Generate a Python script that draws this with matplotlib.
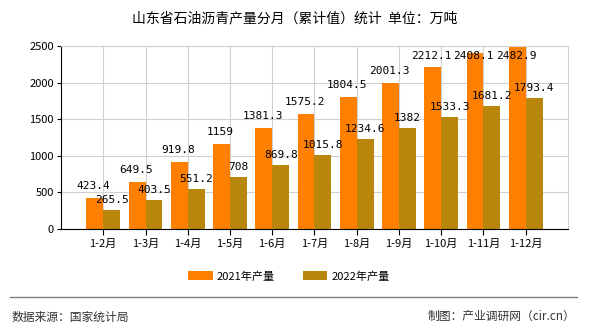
import numpy as np
import matplotlib
matplotlib.use("Agg")
import matplotlib.pyplot as plt

plt.rcParams['font.family'] = ['Noto Sans CJK SC', 'DejaVu Sans']

months = ["1-2月", "1-3月", "1-4月", "1-5月", "1-6月", "1-7月",
          "1-8月", "1-9月", "1-10月", "1-11月", "1-12月"]
prod_2021 = [423.4, 649.5, 919.8, 1159, 1381.3, 1575.2,
             1804.5, 2001.3, 2212.1, 2408.1, 2482.9]
prod_2022 = [265.5, 403.5, 551.2, 708, 869.8, 1015.8,
             1234.6, 1382, 1533.3, 1681.2, 1793.4]
labels_2021 = ["423.4", "649.5", "919.8", "1159", "1381.3", "1575.2",
               "1804.5", "2001.3", "2212.1", "2408.1", "2482.9"]
labels_2022 = ["265.5", "403.5", "551.2", "708", "869.8", "1015.8",
               "1234.6", "1382", "1533.3", "1681.2", "1793.4"]

c21 = "#FF8000"
c22 = "#B8860B"

fig = plt.figure(figsize=(5.9, 3.3), dpi=100)
ax = fig.add_axes([0.1034, 0.306, 0.8593, 0.554])

x = np.arange(1, len(months) + 1)
w = 0.4
b1 = ax.bar(x - w / 2, prod_2021, w, color=c21, label="2021年产量", zorder=2)
b2 = ax.bar(x + w / 2, prod_2022, w, color=c22, label="2022年产量", zorder=2)

# labels sit above the bars but are kept inside the plot area
px = 2500 / 183.0  # data units per pixel
top_lim = 2500 - 10 * px
for xi, v, s in zip(x, prod_2021, labels_2021):
    ax.text(xi - w / 2 - 0.03, min(v + 12 * px, top_lim), s, ha="center", va="center",
            fontsize=8, family="DejaVu Sans Mono", zorder=3)
for xi, v, s in zip(x, prod_2022, labels_2022):
    ax.text(xi + w / 2, min(v + 10 * px, top_lim), s, ha="center", va="center",
            fontsize=8, family="DejaVu Sans Mono", zorder=3)

ax.set_xlim(0, len(months) + 1)
ax.set_ylim(0, 2500)
ax.set_yticks(range(0, 2501, 500))
ax.set_xticks(x)
ax.set_xticklabels(months, fontsize=8)
ax.tick_params(axis="y", labelsize=8, length=3, pad=2)
ax.tick_params(axis="x", length=4, pad=3)
ax.grid(True, color="#d0d0d0", lw=0.8, zorder=0)
ax.set_axisbelow(True)
for sp in ("top", "right"):
    ax.spines[sp].set_color("#d0d0d0")
for sp in ("left", "bottom"):
    ax.spines[sp].set_color("black")

fig.text(0.5, 0.945, "山东省石油沥青产量分月（累计值）统计  单位：万吨",
         ha="center", va="center", fontsize=10)
fig.legend(handles=[b1, b2], loc="center", bbox_to_anchor=(0.49, 0.163),
           ncol=2, frameon=False, fontsize=8, handlelength=2.2, handleheight=0.9,
           columnspacing=2.5, handletextpad=0.4)
fig.add_artist(plt.Line2D([0.017, 0.978], [0.1, 0.1], color="#808080", lw=1))
fig.text(0.02, 0.04, "数据来源：国家统计局", ha="left", va="center", fontsize=8.5, color="#333333")
fig.text(0.975, 0.04, "制图：产业调研网（cir.cn）", ha="right", va="center", fontsize=8.5, color="#333333")

fig.savefig("out.png", dpi=100)
